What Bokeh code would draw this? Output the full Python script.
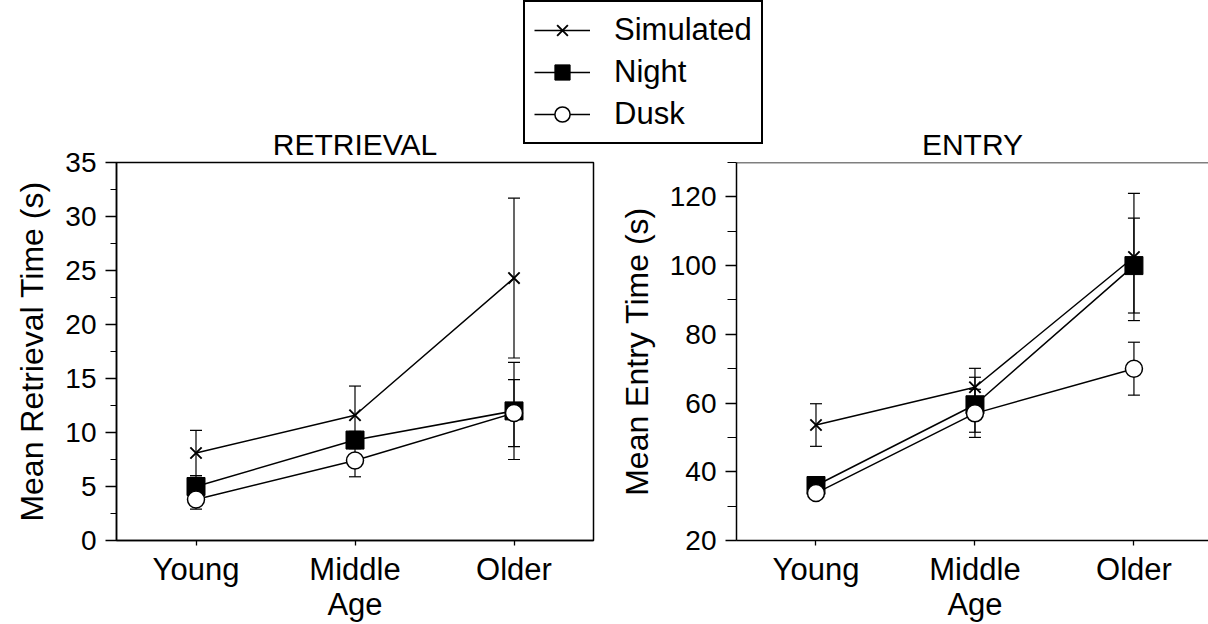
from bokeh.plotting import figure
from bokeh.models import (Range1d, FixedTicker, SingleIntervalTicker, Legend, LegendItem,
                          Whisker, TeeHead, ColumnDataSource, Span)
from bokeh.layouts import column, row
from bokeh.embed import file_html
from bokeh.resources import INLINE

# ---------------- data ----------------
groups = ["Young", "Middle\nAge", "Older"]
series = ["Simulated", "Night", "Dusk"]

ret_sim = [8.1, 11.6, 24.3]
ret_sim_err = [2.1, 2.7, 7.4]
ret_night = [5.0, 9.3, 12.0]
ret_night_err = [1.0, 0.8, 4.5]
ret_dusk = [3.8, 7.4, 11.8]
ret_dusk_err = [0.9, 1.5, 3.1]

ent_sim = [53.6, 64.6, 102.5]
ent_sim_err = [6.2, 5.5, 18.5]
ent_night = [36.0, 59.5, 100.0]
ent_night_err = [2.6, 8.0, 13.8]
ent_dusk = [33.8, 57.0, 70.0]
ent_dusk_err = [1.5, 7.0, 7.7]

titles = ["RETRIEVAL", "ENTRY"]
ylabels = ["Mean Retrieval Time (s)", "Mean Entry Time (s)"]

FONT = "Liberation Sans"
xs = list(range(len(groups)))

styles = {
    "Simulated": dict(marker="x", size=16, line_color="black", line_width=1.9, fill_color=None),
    "Night": dict(marker="square", size=18, line_color="black", line_width=1, fill_color="black"),
    "Dusk": dict(marker="circle", size=17, line_color="black", line_width=1.5, fill_color="white"),
}

TOP_H = 146      # legend strip
OVERLAP = 26     # the panel row slides up under the strip (transparent border)
ROW_H = 624 - TOP_H + OVERLAP


def panel(title, width, min_left, min_right, x_end, y0, y1, interval, minor_out, ylabel, data, outline):
    p = figure(width=width, height=ROW_H, x_range=Range1d(-0.5, x_end), y_range=Range1d(y0, y1),
               toolbar_location=None, output_backend="svg",
               min_border_left=min_left, min_border_right=min_right,
               min_border_top=42, min_border_bottom=81, title=title)
    p.grid.visible = False
    p.background_fill_color = "white"
    p.border_fill_alpha = 0
    p.title.align = "center"
    p.title.text_font = FONT
    p.title.text_font_size = "30px"
    p.title.text_font_style = "normal"
    p.title.text_color = "black"
    p.title.standoff = 3
    if outline:
        p.outline_line_color = "black"
        p.outline_line_width = 1.5
        p.outline_line_alpha = 1
    else:
        p.outline_line_color = None
        p.add_layout(Span(location=y1, dimension="width", line_color="black", line_width=1.5))

    # x axis
    xa = p.xaxis[0]
    xa.ticker = FixedTicker(ticks=xs)
    xa.major_label_overrides = {i: g for i, g in zip(xs, groups)}
    xa.major_tick_out = 5
    xa.major_tick_in = 0
    xa.major_label_standoff = 6
    # y axis
    ya = p.yaxis[0]
    ya.ticker = SingleIntervalTicker(interval=interval, num_minor_ticks=2)
    ya.major_tick_out = 11
    ya.major_tick_in = 0
    ya.minor_tick_out = minor_out
    ya.minor_tick_in = 0
    ya.major_label_standoff = 9
    ya.axis_label = ylabel
    ya.axis_label_standoff = 12
    for ax in (xa, ya):
        ax.axis_line_color = "black"
        ax.axis_line_width = 1.5
        ax.major_tick_line_color = "black"
        ax.major_tick_line_width = 1.3
        ax.minor_tick_line_color = "black" if ax is ya else None
        ax.minor_tick_line_width = 1.2
        ax.major_label_text_font = FONT
        ax.major_label_text_color = "black"
        ax.axis_label_text_font = FONT
        ax.axis_label_text_font_size = "32px"
        ax.axis_label_text_font_style = "normal"
        ax.axis_label_text_color = "black"
    xa.major_label_text_font_size = "31px"
    xa.major_label_text_line_height = 1.0
    ya.major_label_text_font_size = "28px"

    # error bars first (behind markers)
    for name in series:
        vals, errs = data[name]
        src = ColumnDataSource(dict(base=xs,
                                    upper=[v + e for v, e in zip(vals, errs)],
                                    lower=[v - e for v, e in zip(vals, errs)]))
        w = Whisker(base="base", upper="upper", lower="lower", source=src,
                    line_color="black", line_width=1.2,
                    upper_head=TeeHead(size=12, line_width=1.2, line_color="black"),
                    lower_head=TeeHead(size=12, line_width=1.2, line_color="black"))
        p.add_layout(w)
    for name in series:
        vals, errs = data[name]
        p.line(xs, vals, line_color="black", line_width=1.5)
    for name in series:
        vals, errs = data[name]
        p.scatter(xs, vals, **styles[name])
    return p


ret_data = {"Simulated": (ret_sim, ret_sim_err), "Night": (ret_night, ret_night_err),
            "Dusk": (ret_dusk, ret_dusk_err)}
ent_data = {"Simulated": (ent_sim, ent_sim_err), "Night": (ent_night, ent_night_err),
            "Dusk": (ent_dusk, ent_dusk_err)}

left = panel(titles[0], 615, 116, 22, 2.5, 0, 35, 5, 6, ylabels[0], ret_data, True)
right = panel(titles[1], 593, 121, 0, 2.469, 20, 130, 20, 9, ylabels[1], ent_data, False)

# ---------------- top strip with the shared legend ----------------
# The strip's ranges lie far from the data, so its proxy renderers stay out of view
top = figure(width=1208, height=TOP_H, x_range=Range1d(5000, 6208), y_range=Range1d(5000, 5146),
             toolbar_location=None, output_backend="svg", min_border=0,
             x_axis_location=None, y_axis_location=None)
top.grid.visible = False
top.outline_line_color = None
top.background_fill_color = "white"
top.border_fill_color = "white"

items = []
for name in series:
    vals, _ = ret_data[name]
    lr = top.line(xs, vals, line_color="black", line_width=1.5)
    st = dict(styles[name])
    st["size"] = st["size"] - 3
    sr = top.scatter(xs, vals, **st)
    items.append(LegendItem(label=name, renderers=[lr, sr]))
legend = Legend(items=items, location=(523, 2), orientation="vertical",
                border_line_color="black", border_line_width=2, border_line_alpha=1,
                background_fill_color="white", background_fill_alpha=1,
                label_text_font=FONT, label_text_font_size="31px", label_text_color="black",
                glyph_width=56, glyph_height=38, label_height=38, spacing=4,
                padding=9, margin=0, label_standoff=24)
top.add_layout(legend)

panels = row(left, right)
panels.margin = (-OVERLAP, 0, 0, 0)
layout = column(top, panels)
open("out.html", "w").write(file_html(layout, INLINE))
